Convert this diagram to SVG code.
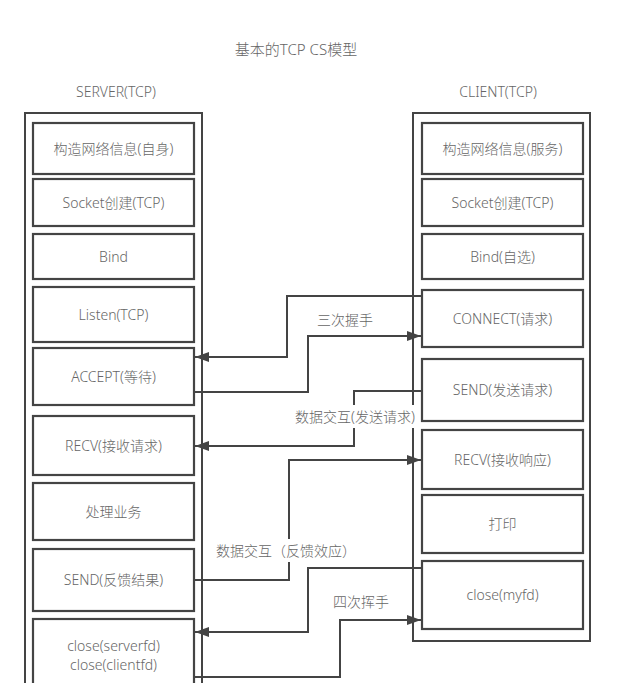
<svg xmlns="http://www.w3.org/2000/svg" width="619" height="683" viewBox="0 0 619 683">
<defs>
<marker id="ah" viewBox="0 0 14 10" refX="14" refY="5" markerWidth="14" markerHeight="10" markerUnits="userSpaceOnUse" orient="auto">
<path d="M0,0 L14,5 L0,10 z" fill="#444"/>
</marker>
<style>
text{font-family:"Noto Sans","Noto Sans CJK SC",sans-serif;font-size:14px;font-weight:300;fill:#666;text-anchor:middle}
.title{font-size:15px}
.hdr{font-size:14px}
.outer{fill:none;stroke:#444;stroke-width:2}
.box rect{fill:#fff;stroke:#444;stroke-width:2.2}
.conn polyline{fill:none;stroke:#444;stroke-width:2;marker-end:url(#ah)}
.bg{fill:#fff}
</style>
</defs>
<rect width="619" height="683" fill="#fff"/>
<text class="title" x="296" y="55">基本的TCP CS模型</text>
<text class="hdr" x="116" y="97">SERVER(TCP)</text>
<text class="hdr" x="498" y="97">CLIENT(TCP)</text>

<rect id="server" class="outer" x="25" y="113" width="177" height="600"/>
<rect id="client" class="outer" x="413" y="113" width="177" height="528"/>

<g id="s1" class="box"><rect x="33" y="123" width="161" height="51"/><text x="113.5" y="153.5">构造网络信息(自身)</text></g>
<g id="s2" class="box"><rect x="33" y="179" width="161" height="47"/><text x="113.5" y="207.5">Socket创建(TCP)</text></g>
<g id="s3" class="box"><rect x="33" y="234" width="161" height="45"/><text x="113.5" y="261.5">Bind</text></g>
<g id="s4" class="box"><rect x="33" y="287" width="161" height="55"/><text x="113.5" y="319.5">Listen(TCP)</text></g>
<g id="s5" class="box"><rect x="33" y="348" width="161" height="57"/><text x="113.5" y="381.5">ACCEPT(等待)</text></g>
<g id="s6" class="box"><rect x="33" y="416" width="161" height="59"/><text x="113.5" y="450.5">RECV(接收请求)</text></g>
<g id="s7" class="box"><rect x="33" y="483" width="161" height="57"/><text x="113.5" y="516.5">处理业务</text></g>
<g id="s8" class="box"><rect x="33" y="549" width="161" height="62"/><text x="113.5" y="585">SEND(反馈结果)</text></g>
<g id="s9" class="box"><rect x="33" y="619" width="161" height="90"/><text x="113.5" y="651">close(serverfd)</text><text x="113.5" y="670">close(clientfd)</text></g>

<g id="c1" class="box"><rect x="422" y="123" width="161" height="51"/><text x="502.5" y="153.5">构造网络信息(服务)</text></g>
<g id="c2" class="box"><rect x="422" y="179" width="161" height="47"/><text x="502.5" y="207.5">Socket创建(TCP)</text></g>
<g id="c3" class="box"><rect x="422" y="234" width="161" height="45"/><text x="502.5" y="261.5">Bind(自选)</text></g>
<g id="c4" class="box"><rect x="422" y="290" width="161" height="57"/><text x="502.5" y="323.5">CONNECT(请求)</text></g>
<g id="c5" class="box"><rect x="422" y="359" width="161" height="62"/><text x="502.5" y="395">SEND(发送请求)</text></g>
<g id="c6" class="box"><rect x="422" y="430" width="161" height="59"/><text x="502.5" y="464.5">RECV(接收响应)</text></g>
<g id="c7" class="box"><rect x="422" y="495" width="161" height="58"/><text x="502.5" y="529">打印</text></g>
<g id="c8" class="box"><rect x="422" y="561" width="161" height="68"/><text x="502.5" y="600">close(myfd)</text></g>

<g id="connectors" class="conn">
<polyline points="422,296 287,296 287,357 195,357"/>
<polyline points="194,392 308,392 308,336 421,336"/>
<polyline points="422,391 354,391 354,446 195,446"/>
<polyline points="194,580 289,580 289,460 421,460"/>
<polyline points="422,568 308,568 308,632 195,632"/>
<polyline points="194,677 340,677 340,620 421,620"/>
</g>

<g id="labels">
<text x="345" y="325">三次握手</text>
<rect class="bg" x="292" y="405" width="126" height="23"/>
<text x="355" y="422">数据交互(发送请求)</text>
<rect class="bg" x="216" y="539" width="140" height="23"/>
<text x="286" y="556">数据交互（反馈效应）</text>
<text x="361" y="607">四次挥手</text>
</g>
</svg>
